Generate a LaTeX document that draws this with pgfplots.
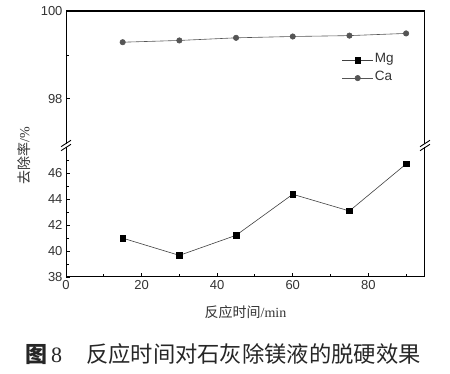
\documentclass[border=0pt]{standalone}
\usepackage{pgfplots}
\pgfplotsset{compat=1.18}
\usepackage{fontspec}
\setmainfont{Liberation Serif}
\newfontfamily\sans{Liberation Sans}
\newfontfamily\cjk{Noto Sans CJK SC}
\definecolor{tk}{HTML}{333333}
\definecolor{cag}{HTML}{555555}
\begin{document}
\begin{tikzpicture}
\path (0pt,0pt) rectangle (450pt,374pt);
\pgfplotsset{
  every axis/.append style={
    scale only axis, width=359pt,
    xmin=0, xmax=95,
    axis line style={draw=none},
    tick style={line width=0.9pt, black},
    major tick length=4pt, minor tick length=2.5pt,
    tick align=inside,
    xtick pos=bottom, ytick pos=left,
    ticklabel style={font=\sans\fontsize{13}{13}\selectfont, text=tk},
    /pgf/number format/assume math mode=true,
  },
  mgstyle/.style={black!75, line width=0.6pt, mark=square*, mark size=2.8pt, mark options={fill=black, draw=black}},
  castyle/.style={cag, line width=0.6pt, mark=*, mark size=2.7pt, mark options={fill=cag, draw=cag}},
}
% lower axis
\begin{axis}[at={(66pt,97pt)}, anchor=south west, height=131pt,
  ymin=38, ymax=48.12,
  xtick={0,20,40,60,80}, minor xtick={10,30,50,70,90},
  ytick={38,40,42,44,46}, minor ytick={39,41,43,45,47}]
\addplot[mgstyle] coordinates {(15,41.0) (30,39.67) (45,41.22) (60,44.39) (75,43.1) (90,46.73)};
\draw[line width=1.2pt] (rel axis cs:0,1) -- (rel axis cs:0,0) -- (rel axis cs:1,0) -- (rel axis cs:1,1);
\end{axis}
% upper axis
\begin{axis}[at={(66pt,228pt)}, anchor=south west, height=135pt,
  ymin=96.93, ymax=100,
  xtick=\empty, ytick={98,100}, minor ytick={99},
  legend image code/.code={\draw[mark repeat=2, mark phase=2, #1] plot coordinates {(0pt,0pt) (15.5pt,0pt) (31pt,0pt)};},
  legend style={at={(0.768,0.70)}, anchor=north west, draw=none, fill=none,
    font=\sans\fontsize{13.5}{13.5}\selectfont, text=tk,
    inner sep=0pt,
    nodes={text height=10pt, text depth=5pt, inner sep=1.3pt}},
  legend cell align=left]
\addlegendimage{mgstyle}
\addlegendentry{Mg}
\addplot[castyle] coordinates {(15,99.29) (30,99.33) (45,99.39) (60,99.42) (75,99.44) (90,99.49)};
\addlegendentry{Ca}
\draw[line width=1.2pt] (rel axis cs:0,0) -- (rel axis cs:0,1) -- (rel axis cs:1,1) -- (rel axis cs:1,0);
\end{axis}
% axis breaks
\foreach \xx in {66,425} {
  \fill[white] (\xx pt-1.5pt,226.6pt) rectangle (\xx pt+1.5pt,230.4pt);
  \draw[line width=0.9pt] (\xx pt-5pt,223.3pt) -- (\xx pt+5pt,229.7pt);
  \draw[line width=0.9pt] (\xx pt-5pt,227.3pt) -- (\xx pt+5pt,233.7pt);
}
% labels
\node[text=tk] at (245.5pt,62pt) {{\cjk\fontsize{14}{14}\selectfont 反应时间}{\fontsize{14}{14}\selectfont /min}};
\node[text=tk, rotate=90] at (24pt,218pt) {{\cjk\fontsize{14}{14}\selectfont 去除率}{\fontsize{14}{14}\selectfont /\%}};
\node[anchor=west, inner sep=0pt, text=black!85] at (25pt,20pt) {{\cjk\bfseries\fontsize{22}{22}\selectfont 图}\hspace{4pt}{\fontsize{22}{22}\selectfont 8}\hspace{24pt}{\cjk\fontsize{22.3}{22.3}\selectfont 反应时间对石灰除镁液的脱硬效果}};
\end{tikzpicture}
\end{document}
